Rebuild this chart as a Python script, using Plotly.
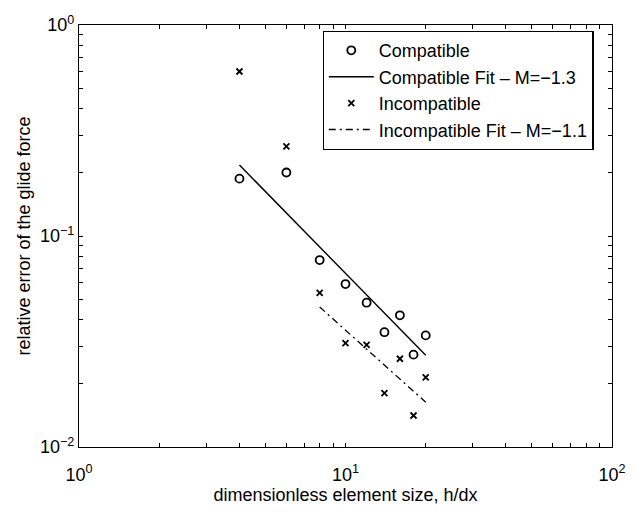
import plotly.graph_objects as go

# data
compat_x = [4, 6, 8, 10, 12, 14, 16, 18, 20]
compat_y = [0.187, 0.200, 0.0769, 0.0592, 0.0483, 0.0350, 0.0421, 0.0274, 0.0338]

incompat_x = [4, 6, 8, 10, 12, 14, 16, 18, 20]
incompat_y = [0.602, 0.266, 0.0537, 0.0311, 0.0305, 0.0180, 0.0262, 0.0141, 0.0214]

compat_fit_x = [4, 20]
compat_fit_y = [0.217, 0.0272]
incompat_fit_x = [8, 20]
incompat_fit_y = [0.0461, 0.0163]

# tick positions (decades labelled, intermediate ones unlabelled)
x_tickvals = [1, 2, 3, 4, 5, 6, 7, 8, 9, 10, 20, 30, 40, 50, 60, 70, 80, 90, 100]
x_ticktext = ["10<sup>0</sup>", "", "", "", "", "", "", "", "",
              "10<sup>1</sup>", "", "", "", "", "", "", "", "",
              "10<sup>2</sup>"]
y_tickvals = [0.01, 0.02, 0.03, 0.04, 0.05, 0.06, 0.07, 0.08, 0.09,
              0.1, 0.2, 0.3, 0.4, 0.5, 0.6, 0.7, 0.8, 0.9, 1]
y_ticktext = ["10<sup>−2</sup>", "", "", "", "", "", "", "", "",
              "10<sup>−1</sup>", "", "", "", "", "", "", "", "",
              "10<sup>0</sup>"]

FONT = "Liberation Sans, Arial, Helvetica, sans-serif"

fig = go.Figure()
fig.add_trace(go.Scatter(
    x=compat_x, y=compat_y, mode="markers", name="Compatible",
    marker=dict(symbol="circle-open", size=8, color="black", line=dict(width=1.8, color="black")),
))
fig.add_trace(go.Scatter(
    x=compat_fit_x, y=compat_fit_y, mode="lines", name="Compatible Fit – M=−1.3",
    line=dict(color="black", width=1.4),
))
fig.add_trace(go.Scatter(
    x=incompat_x, y=incompat_y, mode="markers", name="Incompatible",
    marker=dict(symbol="x-thin-open", size=6, color="black", line=dict(width=1.8, color="black")),
))
fig.add_trace(go.Scatter(
    x=incompat_fit_x, y=incompat_fit_y, mode="lines", name="Incompatible Fit – M=−1.1",
    line=dict(color="black", width=1.3, dash="7px,4px,2px,4px"),
))

axis_common = dict(
    type="log", showgrid=False, zeroline=False,
    showline=True, linecolor="black", linewidth=1.2, mirror="allticks",
    ticks="inside", ticklen=4, tickcolor="black", tickwidth=1,
    tickfont=dict(family=FONT, size=18, color="black"),
)

fig.update_xaxes(
    **axis_common, range=[0, 2], tickmode="array", tickvals=x_tickvals, ticktext=x_ticktext,
    ticklabelstandoff=11,
    title=dict(text="dimensionless element size, h/dx", font=dict(family=FONT, size=18, color="black"), standoff=3),
)
fig.update_yaxes(
    **axis_common, range=[-2, 0], tickmode="array", tickvals=y_tickvals, ticktext=y_ticktext,
    title=dict(text="relative error of the glide force", font=dict(family=FONT, size=18, color="black"), standoff=4),
)

fig.update_layout(
    width=638, height=512,
    margin=dict(l=79, r=14, t=25, b=58),
    paper_bgcolor="white", plot_bgcolor="white",
    font=dict(family=FONT, color="black"),
    legend=dict(
        x=0.457, y=0.986, xanchor="left", yanchor="top",
        bgcolor="white", bordercolor="black", borderwidth=1.2,
        font=dict(family=FONT, size=18, color="black"),
        tracegroupgap=0, itemwidth=45,
    ),
    showlegend=True,
)

fig.write_html("out.html")
